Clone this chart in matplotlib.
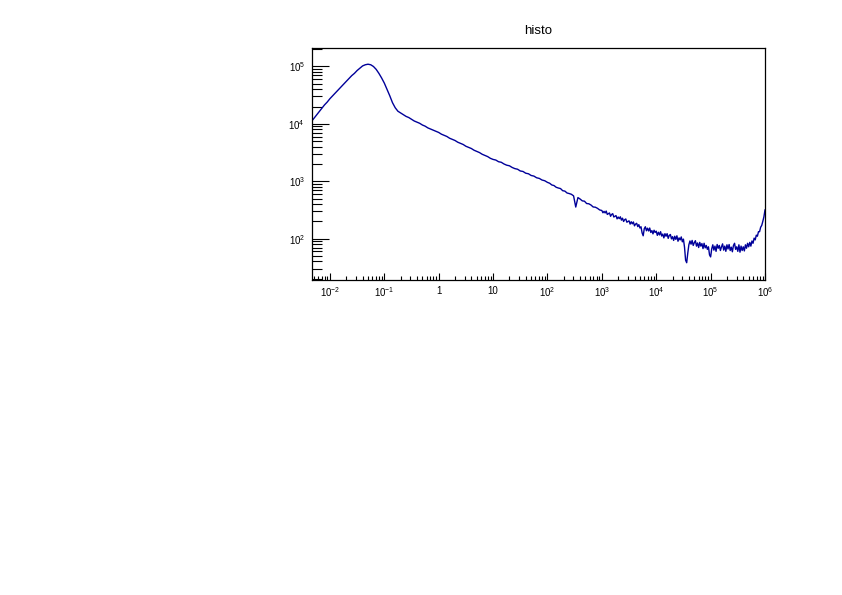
import numpy as np
import matplotlib
matplotlib.use("Agg")
import matplotlib.pyplot as plt
from matplotlib.ticker import LogLocator, FuncFormatter, NullFormatter

plt.rcParams['font.family'] = ['Liberation Sans', 'DejaVu Sans']
plt.rcParams['mathtext.fontset'] = 'custom'
plt.rcParams['mathtext.rm'] = 'Liberation Sans'
plt.rcParams['mathtext.it'] = 'Liberation Sans'

# bin centres, log10 of x, four stretches of the histogram
x_exp_rise = np.round(np.arange(-2.35, -0.699, 0.05), 2)
x_exp_slope = np.round(np.arange(-0.65, 2.001, 0.05), 2)
x_exp_mid = np.round(np.arange(2.04, 2.961, 0.04), 2)
x_exp_tail = np.round(np.arange(3.00, 6.001, 0.02), 2)

# counts
counts_rise = [10700, 12300, 14100, 16200, 18600, 21400, 24000, 27500, 30900, 34700,
               38900, 43600, 49000, 55000, 61700, 69200, 75900, 85100, 93300, 102300,
               107200, 109600, 107200, 100000, 89100, 75900, 63100, 51300, 39800, 30900,
               23400, 19100, 16600, 15500]
counts_slope = [14450, 13490, 12880, 12020, 11220, 10720, 10230, 9550, 9120, 8510,
                8130, 7760, 7410, 7080, 6610, 6310, 6030, 5620, 5370, 5130,
                4790, 4570, 4370, 4070, 3890, 3720, 3470, 3310, 3160, 2950,
                2820, 2690, 2510, 2400, 2340, 2190, 2140, 2000, 1905, 1860,
                1740, 1660, 1620, 1510, 1480, 1380, 1350, 1260, 1230, 1150,
                1120, 1050, 1020, 955]
counts_mid = [923, 861, 841, 785, 762, 745, 684, 673, 624, 610, 592, 556,
              355, 519, 490, 455, 449, 409, 405, 385, 356, 353, 337, 316]
counts_tail = [309, 282, 299, 280, 302, 264, 272, 280, 245, 264,
               272, 238, 245, 252, 221, 238, 223, 240, 210, 227,
               199, 214, 220, 193, 199, 204, 179, 197, 181, 195,
               167, 179, 185, 162, 175, 153, 161, 126, 112, 149,
               161, 137, 152, 136, 153, 128, 138, 121, 140, 128,
               135, 114, 129, 116, 132, 111, 120, 103, 122, 110,
               122, 101, 114, 118, 99, 108, 93, 110, 97, 112,
               90, 103, 95, 107, 88, 98, 71, 42, 38, 56,
               78, 91, 80, 93, 76, 85, 92, 74, 84, 70,
               86, 74, 82, 67, 83, 69, 76, 65, 72, 52,
               48, 66, 78, 63, 74, 60, 79, 68, 76, 62,
               72, 81, 63, 74, 60, 78, 66, 79, 62, 71,
               59, 76, 83, 65, 72, 60, 78, 58, 74, 62,
               72, 61, 78, 68, 83, 72, 86, 74, 91, 83,
               102, 95, 115, 110, 132, 132, 158, 170, 200, 240,
               316]

x = 10.0 ** np.concatenate([x_exp_rise, x_exp_slope, x_exp_mid, x_exp_tail])
y = np.array(counts_rise + counts_slope + counts_mid + counts_tail, dtype=float)
assert len(x) == len(y), (len(x), len(y))

fig = plt.figure(figsize=(8.42, 5.95), dpi=100)
ax = fig.add_axes([312/842, 1-280/595, (765-312)/842, (280-48)/595])
ax.plot(x, y, color='#000099', lw=1.0)

ax.set_xscale('log')
ax.set_yscale('log')
ax.set_xlim(10**-2.33, 1e6)
ax.set_ylim(19, 2.1e5)


def root_label(v, pos):
    n = int(round(np.log10(v)))
    if n == 0:
        return '1'
    if n == 1:
        return '10'
    return r'$10^{%d}$' % n


ax.xaxis.set_major_locator(LogLocator(base=10, numticks=20))
ax.xaxis.set_minor_locator(LogLocator(base=10, subs=np.arange(2, 10), numticks=20))
ax.yaxis.set_major_locator(LogLocator(base=10, numticks=20))
ax.yaxis.set_minor_locator(LogLocator(base=10, subs=np.arange(2, 10), numticks=20))
ax.xaxis.set_major_formatter(FuncFormatter(root_label))
ax.yaxis.set_major_formatter(FuncFormatter(root_label))
ax.xaxis.set_minor_formatter(NullFormatter())
ax.yaxis.set_minor_formatter(NullFormatter())

ax.tick_params(axis='both', which='both', direction='in', top=False, right=False,
               labelsize=7, width=0.8)
ax.tick_params(axis='x', which='major', length=5, pad=4)
ax.tick_params(axis='x', which='minor', length=3)
ax.tick_params(axis='y', which='major', length=12, pad=5)
ax.tick_params(axis='y', which='minor', length=7)
for s in ax.spines.values():
    s.set_linewidth(0.9)

fig.text((312+765)/2/842, 1-31/595, 'histo', ha='center', va='center', fontsize=9.5)

fig.savefig('out.png', dpi=100)
